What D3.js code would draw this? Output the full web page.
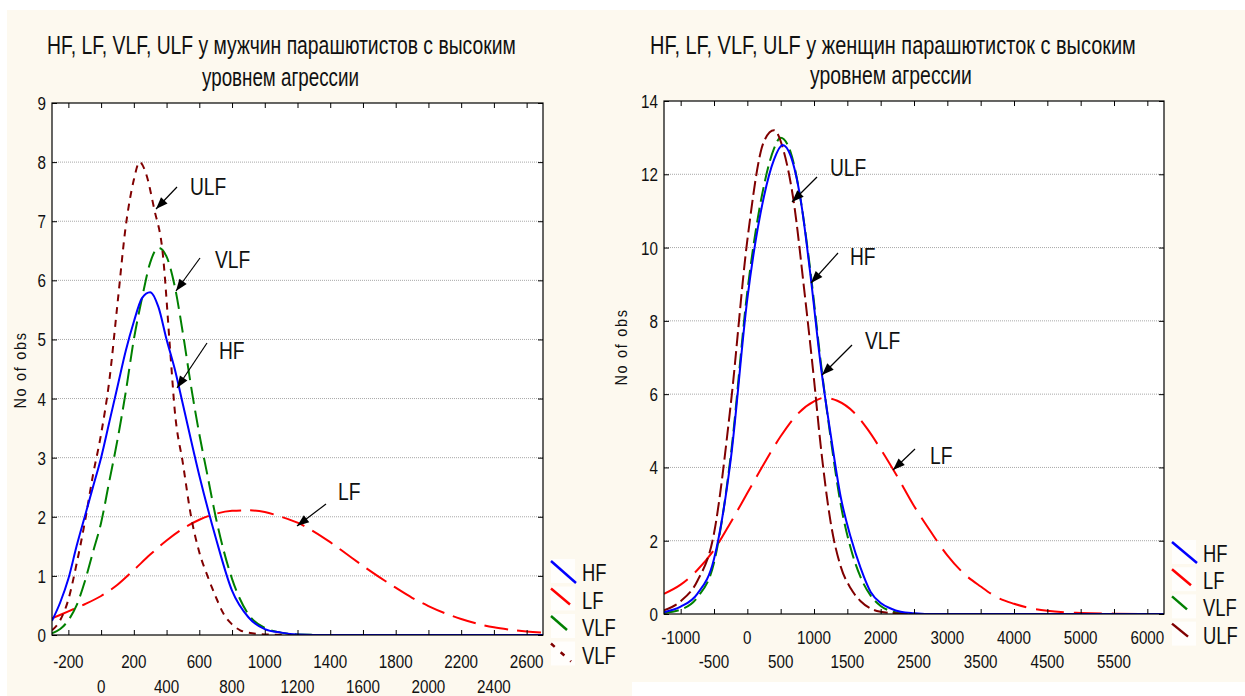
<!DOCTYPE html>
<html>
<head>
<meta charset="utf-8">
<script src="https://cdn.jsdelivr.net/npm/d3@7"></script>
<style>
  body { margin: 0; background: #ffffff; }
  svg text { font-family: 'Liberation Sans', Arial, sans-serif; fill: #111; }
</style>
</head>
<body>
<svg id="chart" width="1245" height="696"></svg>
<script>
// ---- data ----
const seriesNames = ["HF", "LF", "VLF", "ULF"];

// left panel: men
const maleHF = [[-300,0.24],[-250,0.55],[-200,0.95],[-150,1.5],[-100,2.0],[-50,2.5],[0,3.0],[50,3.6],[100,4.2],[150,4.8],[200,5.3],[250,5.7],[300,5.8],[350,5.55],[400,5.0],[450,4.5],[500,3.9],[600,2.7],[700,1.65],[800,0.75],[900,0.3],[1000,0.1],[1100,0.04],[1200,0.01],[1400,0],[2700,0]];
const maleLF = [[-300,0.28],[-200,0.4],[-100,0.52],[0,0.66],[100,0.85],[200,1.1],[300,1.36],[400,1.6],[500,1.8],[600,1.95],[700,2.05],[800,2.1],[900,2.11],[1000,2.08],[1100,2.0],[1200,1.9],[1300,1.75],[1400,1.57],[1500,1.37],[1600,1.17],[1700,0.98],[1800,0.8],[1900,0.63],[2000,0.49],[2100,0.37],[2200,0.27],[2300,0.19],[2400,0.13],[2500,0.09],[2600,0.06],[2700,0.04]];
const maleVLF = [[-300,0.03],[-250,0.1],[-200,0.25],[-150,0.5],[-100,0.9],[-50,1.4],[0,1.9],[50,2.6],[100,3.3],[150,4.1],[200,5.0],[250,5.7],[300,6.3],[350,6.55],[400,6.4],[450,5.9],[500,5.1],[550,4.2],[600,3.4],[650,2.7],[700,2.0],[800,0.95],[900,0.35],[1000,0.12],[1100,0.04],[1200,0.01],[1400,0],[2700,0]];
const maleULF = [[-300,0.08],[-250,0.25],[-200,0.6],[-150,1.2],[-100,1.9],[-50,2.7],[0,3.4],[50,4.3],[100,5.6],[150,6.9],[200,7.7],[235,8.0],[275,7.8],[325,7.2],[375,6.5],[425,4.7],[450,3.8],[500,2.9],[550,2.0],[600,1.4],[650,1.0],[700,0.65],[750,0.35],[800,0.18],[850,0.08],[900,0.04],[1000,0.01],[1200,0],[2700,0]];
const maleLegend = ["HF", "LF", "VLF", "VLF"];
const maleXTicks = d3.range(-200, 2601, 200);
const maleYTicks = d3.range(0, 10, 1);

// right panel: women
const femHF = [[-1250,0.05],[-1000,0.2],[-750,0.55],[-500,1.5],[-250,4.2],[0,8.6],[250,11.4],[400,12.4],[530,12.8],[650,12.5],[800,11.3],[950,9.2],[1100,6.8],[1250,4.9],[1400,3.2],[1550,2.1],[1700,1.25],[1850,0.6],[2000,0.3],[2150,0.15],[2300,0.06],[2500,0.02],[2700,0],[6250,0]];
const femLF = [[-1250,0.55],[-1000,0.8],[-750,1.2],[-500,1.75],[-250,2.5],[0,3.3],[250,4.1],[500,4.85],[750,5.45],[1000,5.8],[1150,5.9],[1350,5.82],[1600,5.5],[1800,5.05],[2000,4.5],[2250,3.75],[2500,2.95],[2750,2.25],[3000,1.6],[3250,1.1],[3500,0.75],[3750,0.45],[4000,0.28],[4250,0.16],[4500,0.09],[4750,0.05],[5000,0.03],[5500,0.01],[6250,0]];
const femVLF = [[-1250,0.03],[-1000,0.12],[-750,0.45],[-500,1.4],[-250,4.3],[0,8.8],[250,11.7],[400,12.7],[500,13.0],[650,12.6],[800,11.3],[950,9.3],[1100,6.9],[1250,4.8],[1400,3.0],[1550,1.8],[1700,1.0],[1850,0.5],[2000,0.22],[2150,0.08],[2300,0.03],[2500,0.01],[2700,0],[6250,0]];
const femULF = [[-1250,0.1],[-1000,0.35],[-750,0.9],[-500,2.2],[-250,5.7],[0,10.2],[250,12.9],[400,13.2],[550,12.6],[700,11.2],[850,8.9],[1000,6.4],[1100,4.6],[1250,2.5],[1400,1.3],[1550,0.7],[1700,0.35],[1850,0.15],[2000,0.06],[2200,0.02],[2500,0],[6250,0]];
const femLegend = ["HF", "LF", "VLF", "ULF"];
const femXTicks = d3.range(-1000, 6001, 500);
const femYTicks = d3.range(0, 15, 2);

const svg = d3.select("#chart");
const NARROW = 0.8;

// condensed-looking text: scale horizontally around the anchor point
function narrowText(g, x, y, str, size, anchor) {
  return g.append("text")
    .attr("transform", `translate(${x},${y}) scale(${NARROW},1)`)
    .attr("text-anchor", anchor || "start")
    .style("font-size", size + "px")
    .text(str);
}

// cream panels
svg.append("rect").attr("x", 7).attr("y", 10).attr("width", 625).attr("height", 686).attr("fill", "#fdf9ef");
svg.append("rect").attr("x", 632).attr("y", 10).attr("width", 613).attr("height", 672).attr("fill", "#fdf9ef");

function drawPanel(p) {
  const g = svg.append("g");
  const x = d3.scaleLinear().domain(p.xDomain).range([p.left, p.right]);
  const y = d3.scaleLinear().domain(p.yDomain).range([p.bottom, p.top]);

  g.append("rect")
    .attr("x", p.left).attr("y", p.top)
    .attr("width", p.right - p.left).attr("height", p.bottom - p.top)
    .attr("fill", "#fff");

  // gridlines
  g.selectAll(".grid")
    .data(p.yTicks.filter((d) => d > p.yDomain[0] && d < p.yDomain[1]))
    .enter()
    .append("line")
    .attr("x1", p.left).attr("x2", p.right)
    .attr("y1", (d) => y(d)).attr("y2", (d) => y(d))
    .attr("stroke", "#a8a8a8")
    .attr("stroke-width", 1)
    .attr("stroke-dasharray", "1,1");

  // titles: squeeze each line to the width it has in the picture
  p.title.forEach((t) => {
    const txt = g.append("text")
      .attr("text-anchor", "start")
      .style("font-size", "25px")
      .text(t.text);
    const natural = txt.node().getComputedTextLength();
    txt.attr("transform", `translate(${t.x},${t.y}) scale(${t.w / natural},1)`);
  });

  // curves
  const clipId = "clip" + p.id;
  svg.append("clipPath").attr("id", clipId)
    .append("rect")
    .attr("x", p.left).attr("y", p.top - 2)
    .attr("width", p.right - p.left).attr("height", p.bottom - p.top + 2);

  const line = d3.line()
    .x((d) => x(d[0]))
    .y((d) => y(d[1]))
    .curve(d3.curveMonotoneX);

  const order = [1, 2, 3, 0]; // draw HF last
  order.forEach((i) => {
    g.append("path")
      .datum(p.series[i])
      .attr("clip-path", `url(#${clipId})`)
      .attr("fill", "none")
      .attr("stroke", p.colors[i])
      .attr("stroke-width", 2)
      .attr("stroke-dasharray", p.dashes[i])
      .attr("d", line);
  });

  // frame
  g.append("rect")
    .attr("x", p.left).attr("y", p.top)
    .attr("width", p.right - p.left).attr("height", p.bottom - p.top)
    .attr("fill", "none").attr("stroke", "#000").attr("stroke-width", 1.2);

  // axes (ticks inward)
  const xb = d3.axisBottom(x).tickValues(p.xTicks).tickSize(-5).tickFormat("");
  const xt = d3.axisTop(x).tickValues(p.xTicks).tickSize(-5).tickFormat("");
  const yl = d3.axisLeft(y).tickValues(p.yTicks).tickSize(-5).tickFormat("");
  const yr = d3.axisRight(y).tickValues(p.yTicks).tickSize(-5).tickFormat("");
  [[xb, `translate(0,${p.bottom})`], [xt, `translate(0,${p.top})`],
   [yl, `translate(${p.left},0)`], [yr, `translate(${p.right},0)`]].forEach(([ax, tr]) => {
    const a = g.append("g").attr("transform", tr).call(ax);
    a.select(".domain").remove();
    a.selectAll("line").attr("stroke", "#000");
  });

  // x tick labels in two alternating rows
  p.xTicks.forEach((d, i) => {
    narrowText(g, x(d), i % 2 === 0 ? p.bottom + p.row1 : p.bottom + p.row2, d, 19, "middle");
  });

  // y tick labels
  p.yTicks.forEach((d) => {
    narrowText(g, p.left - 6, y(d) + 7, d, 19, "end");
  });

  g.append("text")
    .attr("transform", `translate(${p.yLabelX},${p.yLabelY}) rotate(-90) scale(0.85,1)`)
    .attr("text-anchor", "middle")
    .style("font-size", "17px")
    .style("letter-spacing", "2px")
    .text("No of obs");

  // annotations
  p.notes.forEach((n) => {
    g.append("line")
      .attr("x1", n.from[0]).attr("y1", n.from[1])
      .attr("x2", n.to[0]).attr("y2", n.to[1])
      .attr("stroke", "#000").attr("stroke-width", 1.2);
    const ang = Math.atan2(n.to[1] - n.from[1], n.to[0] - n.from[0]);
    const L = 12, W = 4.5;
    const bx = n.to[0] - L * Math.cos(ang), by = n.to[1] - L * Math.sin(ang);
    const pts = [
      [n.to[0], n.to[1]],
      [bx + W * Math.sin(ang), by - W * Math.cos(ang)],
      [bx - W * Math.sin(ang), by + W * Math.cos(ang)]
    ];
    g.append("polygon").attr("points", pts.map((q) => q.join(",")).join(" ")).attr("fill", "#000");
    narrowText(g, n.label[0], n.label[1], n.text, 24);
  });

  // legend
  p.legend.forEach((name, i) => {
    const lx = p.legX, ly = p.legY + i * p.legStep;
    g.append("rect").attr("x", lx).attr("y", ly - 2).attr("width", 24).attr("height", 24)
      .attr("fill", "#fff").attr("opacity", 0.8);
    g.append("line")
      .attr("x1", lx).attr("y1", ly)
      .attr("x2", lx + p.legLen[i][0]).attr("y2", ly + p.legLen[i][1])
      .attr("stroke", p.colors[i]).attr("stroke-width", 2.5)
      .attr("stroke-dasharray", p.legDash[i]);
    narrowText(g, lx + 31, ly + 20, name, 23);
  });
}

drawPanel({
  id: "m",
  left: 52, right: 543, top: 103, bottom: 635,
  xDomain: [-300, 2700], yDomain: [0, 9],
  xTicks: maleXTicks, yTicks: maleYTicks,
  series: [maleHF, maleLF, maleVLF, maleULF],
  colors: ["#0000ff", "#ff0000", "#008000", "#800000"],
  dashes: ["none", "24,9", "17,7", "7,6"],
  row1: 33, row2: 58, yLabelX: 26, yLabelY: 370,
  title: [
    { text: "HF, LF, VLF, ULF у мужчин парашютистов с высоким", x: 47, y: 54, w: 469 },
    { text: "уровнем агрессии", x: 202, y: 86, w: 157 }
  ],
  notes: [
    { text: "ULF", from: [177, 187], to: [156, 209], label: [190, 195] },
    { text: "VLF", from: [200, 258], to: [176, 291], label: [215, 268] },
    { text: "HF", from: [207, 343], to: [177, 388], label: [219, 359] },
    { text: "LF", from: [326, 504], to: [297, 526], label: [338, 500] }
  ],
  legend: maleLegend, legX: 551, legY: 561, legStep: 27.5,
  legLen: [[25, 22], [19, 16], [16, 14], [20, 18]],
  legDash: ["none", "none", "none", "5,8"]
});

drawPanel({
  id: "f",
  left: 664, right: 1164, top: 101, bottom: 614,
  xDomain: [-1250, 6250], yDomain: [0, 14],
  xTicks: femXTicks, yTicks: femYTicks,
  series: [femHF, femLF, femVLF, femULF],
  colors: ["#0000ff", "#ff0000", "#008000", "#800000"],
  dashes: ["none", "28,10", "15,6", "14,5"],
  row1: 30, row2: 54, yLabelX: 627, yLabelY: 347,
  title: [
    { text: "HF, LF, VLF, ULF у женщин парашютисток с высоким", x: 650, y: 54, w: 486 },
    { text: "уровнем агрессии", x: 810, y: 84, w: 162 }
  ],
  notes: [
    { text: "ULF", from: [817, 177], to: [792, 202], label: [830, 176] },
    { text: "HF", from: [838, 253], to: [811, 283], label: [850, 265] },
    { text: "VLF", from: [852, 345], to: [822, 375], label: [865, 349] },
    { text: "LF", from: [915, 449], to: [893, 470], label: [930, 464] }
  ],
  legend: femLegend, legX: 1172, legY: 542, legStep: 27.2,
  legLen: [[25, 21], [19, 16], [15, 13], [16, 13]],
  legDash: ["none", "none", "none", "none"]
});
</script>
</body>
</html>
